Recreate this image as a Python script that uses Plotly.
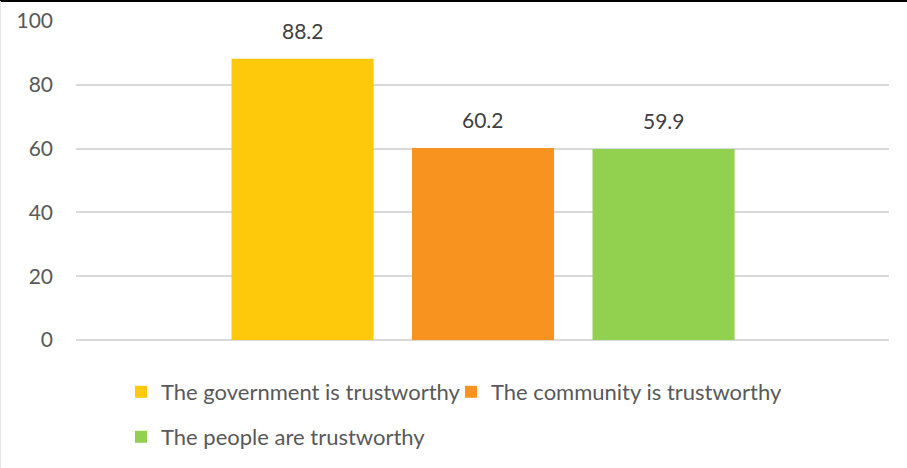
import plotly.graph_objects as go

# Survey results: share of respondents agreeing with each statement
series_names = [
    "The government is trustworthy",
    "The community is trustworthy",
    "The people are trustworthy",
]
series_values = [88.2, 60.2, 59.9]
series_colors = ["#FFC90B", "#F7931E", "#92D050"]
y_ticks = [0, 20, 40, 60, 80, 100]

W, H = 907, 468
M_L, M_R, M_T, M_B = 76, 18, 21, 128
plot_w = W - M_L - M_R
plot_h = H - M_T - M_B

FONT = "Lato"
TEXT_GRAY = "#595959"
LABEL_GRAY = "#404040"


def paper_y(py):
    """Convert a pixel row of the page into a paper y coordinate."""
    return (M_T + plot_h - py) / plot_h


fig = go.Figure()
legend_of = ["legend", "legend", "legend2"]
for i, (name, val, col) in enumerate(zip(series_names, series_values, series_colors)):
    fig.add_trace(go.Bar(
        x=[i], y=[val], name=name, width=0.787,
        marker=dict(color=col, line=dict(width=0)),
        legend=legend_of[i],
        hoverinfo="skip",
    ))
    fig.add_annotation(
        x=i, y=val, text=f"{val:.1f}", showarrow=False,
        yanchor="bottom", yshift=14,
        font=dict(family=FONT, size=21, color=LABEL_GRAY),
    )

# chart frame: dark top edge, faint left edge
top_y = paper_y(1)
fig.add_shape(type="line", xref="paper", yref="paper",
              x0=-M_L / plot_w, x1=(W - M_L) / plot_w, y0=top_y, y1=top_y,
              line=dict(color="#000000", width=2))
fig.add_shape(type="line", xref="paper", yref="paper",
              x0=(-M_L + 0.5) / plot_w, x1=(-M_L + 0.5) / plot_w,
              y0=paper_y(H), y1=top_y,
              line=dict(color="#E4E4E4", width=1))

legend_x = (121) / W
legend_font = dict(family=FONT, size=22, color=TEXT_GRAY)
fig.update_layout(
    width=W, height=H,
    margin=dict(l=M_L, r=M_R, t=M_T, b=M_B, autoexpand=False),
    paper_bgcolor="white", plot_bgcolor="white",
    barmode="overlay",
    showlegend=True,
    xaxis=dict(range=[-1.255, 3.249], showgrid=False, zeroline=False,
               showticklabels=False, ticks="", fixedrange=True,
               automargin=False),
    yaxis=dict(range=[0, 100], tickvals=y_ticks, showgrid=True,
               gridcolor="#D9D9D9", gridwidth=1.5, zeroline=True,
               zerolinecolor="#D9D9D9", zerolinewidth=1.5, showline=False,
               ticks="", ticklabelstandoff=22, automargin=False,
               tickfont=dict(family=FONT, size=21, color=TEXT_GRAY)),
    legend=dict(orientation="h", xref="container", yref="container",
                x=legend_x, xanchor="left",
                y=1 - 392 / H, yanchor="middle",
                entrywidth=285, entrywidthmode="pixels",
                font=legend_font, bgcolor="rgba(0,0,0,0)", itemclick=False),
    legend2=dict(orientation="h", xref="container", yref="container",
                 x=legend_x, xanchor="left",
                 y=1 - 437 / H, yanchor="middle",
                 font=legend_font, bgcolor="rgba(0,0,0,0)", itemclick=False),
)

fig.write_html("out.html")
